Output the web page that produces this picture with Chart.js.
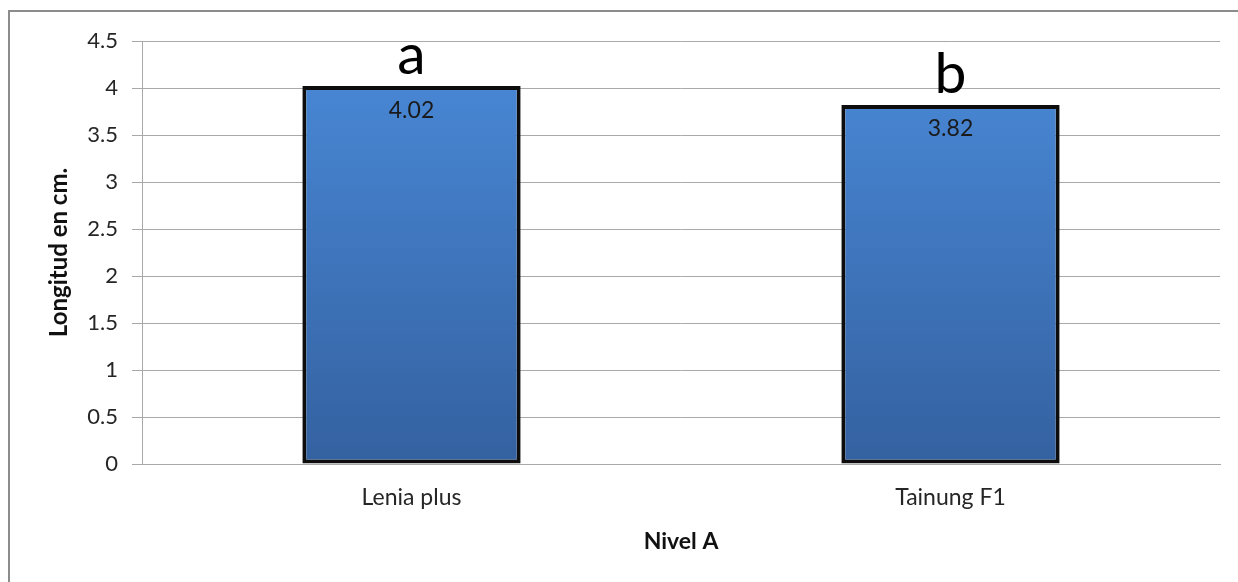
<!DOCTYPE html>
<html>
<head>
<meta charset="utf-8">
<script src="https://cdn.jsdelivr.net/npm/chart.js@4"></script>
<style>
    html, body { margin: 0; padding: 0; background: #fff; }
    #frame {
        position: absolute; left: 8px; top: 10px; width: 1250px; height: 600px;
        border-left: 2px solid #8c8c8c; border-top: 2px solid #8c8c8c;
    }
    #wrap { position: absolute; left: 0; top: 0; width: 1238px; height: 582px; }
</style>
</head>
<body>
<div id="frame"></div>
<div id="wrap"><canvas id="bar-chart" width="1238" height="582"></canvas></div>
<script>
// chart values
const categories = ['Lenia plus', 'Tainung F1'];
const lengths = [4.02, 3.82];
const letters = ['a', 'b'];
const yTicks = [0, 0.5, 1, 1.5, 2, 2.5, 3, 3.5, 4, 4.5];
const xTitle = 'Nivel A';
const yTitle = 'Longitud en cm.';

const FONT = "Lato, 'Open Sans', sans-serif";
const gridColor = '#a9a9a9';

// bar fill: vertical blue gradient like the office chart
function barFill(context) {
    const area = context.chart.chartArea;
    if (!area) return '#3f76c2';
    const g = context.chart.ctx.createLinearGradient(0, area.top, 0, area.bottom);
    g.addColorStop(0, '#4a8ad9');
    g.addColorStop(1, '#3461a0');
    return g;
}

// draws the letters above the bars and the values inside them
const barLabels = {
    id: 'barLabels',
    afterDatasetsDraw(chart) {
        const ctx = chart.ctx;
        const meta = chart.getDatasetMeta(0);
        ctx.save();
        ctx.textAlign = 'center';
        meta.data.forEach((bar, i) => {
            ctx.fillStyle = '#000';
            ctx.font = '57px ' + FONT;
            ctx.textBaseline = 'alphabetic';
            ctx.fillText(letters[i], bar.x, bar.y - 12);

            ctx.fillStyle = '#1a1a1a';
            ctx.font = '23px ' + FONT;
            ctx.textBaseline = 'middle';
            ctx.fillText(lengths[i].toFixed(2), bar.x, bar.y + 24);
        });
        ctx.restore();
    }
};

const config = {
    type: 'bar',
    data: {
        labels: categories,
        datasets: [{
            data: lengths,
            backgroundColor: barFill,
            borderColor: '#0d0d0d',
            borderWidth: 4,
            borderSkipped: false,
            categoryPercentage: 1,
            barPercentage: 0.405
        }]
    },
    options: {
        responsive: false,
        animation: false,
        layout: {padding: {top: 41, right: 18, left: 0, bottom: 0}},
        plugins: {
            legend: {display: false},
            tooltip: {enabled: false}
        },
        scales: {
            x: {
                grid: {display: false, drawTicks: false},
                border: {display: true, color: gridColor, width: 1},
                ticks: {
                    color: '#262626',
                    padding: 20,
                    font: {family: FONT, size: 23}
                },
                title: {
                    display: true,
                    text: xTitle,
                    color: '#111',
                    font: {family: FONT, size: 23, weight: 'bold'},
                    padding: {top: 0, bottom: 27}
                },
                afterFit: (scale) => { scale.height = 118; }
            },
            y: {
                min: 0,
                max: 4.5,
                afterBuildTicks: (scale) => {
                    scale.ticks = yTicks.map(v => ({value: v}));
                },
                grid: {
                    color: gridColor,
                    lineWidth: 1,
                    drawTicks: true,
                    tickLength: 10
                },
                border: {display: true, color: gridColor, width: 1},
                ticks: {
                    color: '#262626',
                    padding: 14,
                    font: {family: FONT, size: 22},
                    callback: (value) => String(value)
                },
                title: {
                    display: true,
                    text: yTitle,
                    color: '#111',
                    font: {family: FONT, size: 24, weight: 'bold'},
                    padding: {top: 45, bottom: 0}
                },
                afterFit: (scale) => { scale.width = 142; }
            }
        }
    },
    plugins: [barLabels]
};

const ctx = document.getElementById('bar-chart').getContext('2d');
window.barChart = new Chart(ctx, config);
</script>
</body>
</html>
